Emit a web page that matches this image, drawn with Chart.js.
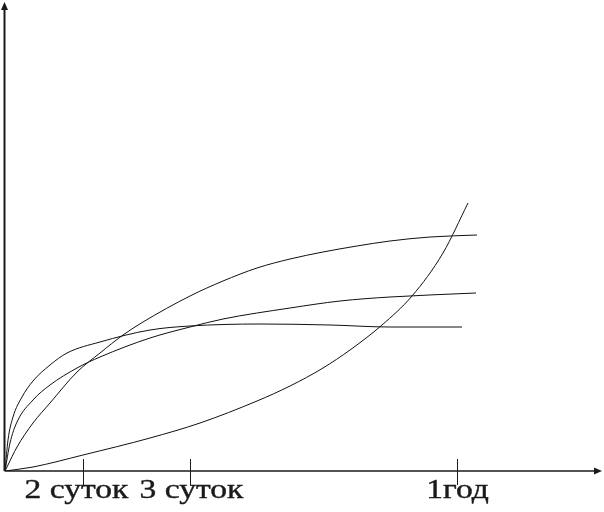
<!DOCTYPE html>
<html>
<head>
<meta charset="utf-8">
<script src="https://cdn.jsdelivr.net/npm/chart.js@4"></script>
<style>
	body { margin: 0; background: #fff; }
	canvas { display: block; }
</style>
</head>
<body>
<canvas id="growthChart" width="604" height="512"></canvas>
<script>
// curves (x, y in axis units from the origin)
const xsA = [0, 3, 8, 17, 28, 45, 62, 95, 145, 185, 255, 325, 385, 457];
const ysA = [0, 31, 54, 74, 90, 106, 118, 129, 141, 145, 147, 146, 144, 144];

const xsB = [0, 5, 12, 28, 45, 72, 95, 145, 185, 218, 285, 335, 385, 471];
const ysB = [0, 28, 49, 71, 86, 103, 114, 133, 144, 152, 163, 170, 174, 178];

const xsC = [0, 2, 12, 28, 45, 72, 95, 118, 138, 185, 218, 252, 285, 318, 352, 385, 425, 472];
const ysC = [0, 4, 24, 48, 68, 99, 118, 136, 149, 175, 190, 203, 212, 219, 225, 230, 234, 236];

const xsD = [0, 28, 78, 145, 195, 252, 285, 318, 345, 377, 407, 438, 463];
const ysD = [0, 4, 16, 33, 48, 70, 85, 103, 121, 146, 175, 218, 268];

const tickValues = [78, 185, 452];
const tickLabels = ['2 суток', '3 суток', '1год'];
const labelShift = [-7, 1, 0];

const toPoints = (xs, ys) => xs.map((x, i) => ({ x: x, y: ys[i] }));

const makeSet = (xs, ys) => {
	return {
		data: toPoints(xs, ys),
		borderColor: '#111',
		borderWidth: 1,
		pointRadius: 0,
		fill: false,
		cubicInterpolationMode: 'monotone'
	};
};

const axesPlugin = {
	id: 'handAxes',
	afterDraw: (chart) => {
		let ctx = chart.ctx;
		let xs = chart.scales.x;
		let ys = chart.scales.y;
		let x0 = xs.getPixelForValue(0) - 0.5;
		let y0 = ys.getPixelForValue(0);
		let xEnd = xs.getPixelForValue(xs.max);
		let yEnd = ys.getPixelForValue(ys.max);
		ctx.save();
		ctx.strokeStyle = '#1a1a1a';
		ctx.fillStyle = '#1a1a1a';
		ctx.lineWidth = 2;
		ctx.beginPath();
		ctx.moveTo(x0, y0);
		ctx.lineTo(x0, yEnd + 4);
		ctx.stroke();
		ctx.lineWidth = 1.5;
		ctx.beginPath();
		ctx.moveTo(x0, y0);
		ctx.lineTo(xEnd - 4, y0);
		ctx.stroke();
		// arrow heads
		ctx.beginPath();
		ctx.moveTo(x0, yEnd);
		ctx.lineTo(x0 - 3.5, yEnd + 8);
		ctx.lineTo(x0 + 3.5, yEnd + 8);
		ctx.closePath();
		ctx.fill();
		ctx.beginPath();
		ctx.moveTo(xEnd, y0);
		ctx.lineTo(xEnd - 8, y0 - 3.5);
		ctx.lineTo(xEnd - 8, y0 + 3.5);
		ctx.closePath();
		ctx.fill();
		// ticks and labels
		ctx.lineWidth = 1;
		ctx.font = '28px "Liberation Serif"';
		ctx.textAlign = 'center';
		ctx.textBaseline = 'alphabetic';
		tickValues.forEach((v, i) => {
			let px = Math.round(xs.getPixelForValue(v)) + 0.5;
			ctx.beginPath();
			ctx.moveTo(px, y0 - 12);
			ctx.lineTo(px, y0 + 14);
			ctx.stroke();
			ctx.save();
			ctx.translate(px + labelShift[i], y0 + 27);
			ctx.scale(1.2, 1);
			ctx.lineWidth = 0.4;
			ctx.fillText(tickLabels[i], 0, 0);
			ctx.strokeText(tickLabels[i], 0, 0);
			ctx.restore();
		});
		ctx.restore();
	}
};

let ctx = document.getElementById('growthChart').getContext('2d');
let myChart = new Chart(ctx, {
	type: 'line',
	data: {
		datasets: [makeSet(xsA, ysA), makeSet(xsB, ysB), makeSet(xsC, ysC), makeSet(xsD, ysD)]
	},
	options: {
		responsive: false,
		animation: false,
		layout: {
			padding: { left: 5, right: 2, top: 2, bottom: 41 }
		},
		scales: {
			x: { type: 'linear', min: 0, max: 597, display: false },
			y: { type: 'linear', min: 0, max: 469, display: false }
		},
		plugins: {
			legend: { display: false },
			tooltip: { enabled: false }
		}
	},
	plugins: [axesPlugin]
});
</script>
</body>
</html>
